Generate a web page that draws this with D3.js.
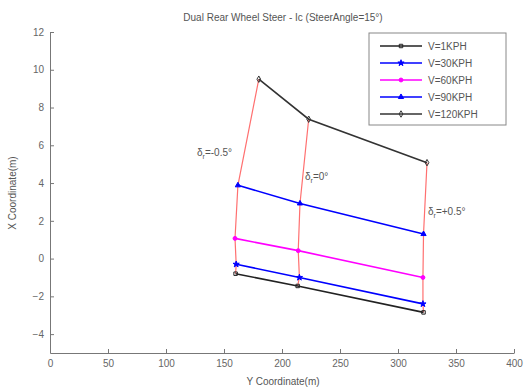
<!DOCTYPE html>
<html>
<head>
<meta charset="utf-8">
<title>Dual Rear Wheel Steer</title>
<script src="https://cdn.jsdelivr.net/npm/d3@7"></script>
<style>
  body { margin: 0; background: #fff; }
  text { font-family: "Liberation Sans", Arial, sans-serif; }
</style>
</head>
<body>
<script>
// speeds (legend), y-coordinate (horizontal) and x-coordinate (vertical) values
var speeds = ["V=1KPH", "V=30KPH", "V=60KPH", "V=90KPH", "V=120KPH"]
var yCoord = [
  [160, 213.5, 322],
  [160.5, 215, 321.5],
  [159.5, 214, 321.5],
  [162, 215.5, 322],
  [180, 223, 325]
]
var xCoord = [
  [-0.8, -1.45, -2.85],
  [-0.3, -1.0, -2.4],
  [1.07, 0.42, -1.0],
  [3.88, 2.92, 1.3],
  [9.5, 7.38, 5.08]
]
var colors = ["#222", "#0000ff", "#ff00ff", "#0000ff", "#333"]
var markers = ["square", "star", "circle", "triangle", "diamond"]
var angleLabels = ["-0.5°", "0°", "+0.5°"]
var xTicks = [0, 50, 100, 150, 200, 250, 300, 350, 400]
var yTicks = [-4, -2, 0, 2, 4, 6, 8, 10, 12]

var w = 528, h = 389
var svg = d3.select("body").append("svg").attr("width", w).attr("height", h)

var xScale = d3.scaleLinear().domain([0, 400]).range([50, 514])
var yScale = d3.scaleLinear().domain([-5, 12]).range([353, 32])

// axes (MATLAB style, inward ticks, box off)
var xAxis = svg.append("g").attr("transform", "translate(0," + yScale(-5) + ")")
  .call(d3.axisBottom(xScale).tickValues(xTicks).tickSizeInner(-4).tickSizeOuter(0).tickPadding(7))
var yAxis = svg.append("g").attr("transform", "translate(" + xScale(0) + ",0)")
  .call(d3.axisLeft(yScale).tickValues(yTicks).tickSizeInner(-4).tickSizeOuter(0).tickPadding(6))
svg.selectAll(".domain, .tick line").attr("stroke", "#777")
svg.selectAll(".tick text").attr("fill", "#666").style("font-size", "10px")

svg.append("text").attr("x", 283).attr("y", 21).attr("text-anchor", "middle")
  .attr("fill", "#555").style("font-size", "10px")
  .text("Dual Rear Wheel Steer - Ic (SteerAngle=15°)")
svg.append("text").attr("x", 283).attr("y", 385).attr("text-anchor", "middle")
  .attr("fill", "#555").style("font-size", "10px").text("Y Coordinate(m)")
svg.append("text").attr("transform", "translate(16,193) rotate(-90)").attr("text-anchor", "middle")
  .attr("fill", "#555").style("font-size", "10px").text("X Coordinate(m)")

// red constant-angle lines across speeds
for (var j = 0; j < 3; j++) {
  var col = speeds.map(function(s, i) { return [yCoord[i][j], xCoord[i][j]] })
  svg.append("path").datum(col)
    .attr("d", d3.line().x(function(d) { return xScale(d[0]) }).y(function(d) { return yScale(d[1]) }))
    .attr("fill", "none").attr("stroke", "#ff7070").attr("stroke-width", 1.2)
}

function symbolFor(m, size) {
  var t = { square: d3.symbolSquare, star: d3.symbolStar, circle: d3.symbolCircle,
            triangle: d3.symbolTriangle, diamond: d3.symbolDiamond }[m]
  return d3.symbol().type(t).size(size)()
}

var line = d3.line().x(function(d) { return xScale(d[0]) }).y(function(d) { return yScale(d[1]) })
speeds.forEach(function(s, i) {
  var pts = yCoord[i].map(function(v, k) { return [v, xCoord[i][k]] })
  svg.append("path").datum(pts).attr("d", line)
    .attr("fill", "none").attr("stroke", colors[i]).attr("stroke-width", 1.6)
  svg.selectAll(".m" + i).data(pts).enter().append("path")
    .attr("transform", function(d) { return "translate(" + xScale(d[0]) + "," + yScale(d[1]) + ")" })
    .attr("d", symbolFor(markers[i], 12))
    .attr("fill", markers[i] == "square" || markers[i] == "diamond" ? "none" : colors[i])
    .attr("stroke", colors[i]).attr("stroke-width", 1)
})

// angle labels
var labelPos = [[197, 156], [305, 180], [428, 215]]
angleLabels.forEach(function(a, j) {
  var t = svg.append("text").attr("x", labelPos[j][0]).attr("y", labelPos[j][1])
    .attr("fill", "#555").style("font-size", "10px")
  t.append("tspan").text("δ")
  t.append("tspan").attr("dy", 3).style("font-size", "7px").text("r")
  t.append("tspan").attr("dy", -3).text("=" + a)
})

// legend
var lg = svg.append("g")
lg.append("rect").attr("x", 369).attr("y", 33).attr("width", 137).attr("height", 92)
  .attr("fill", "#fff").attr("stroke", "#888")
speeds.forEach(function(s, i) {
  var yy = 46 + i * 17
  lg.append("line").attr("x1", 380).attr("x2", 422).attr("y1", yy).attr("y2", yy)
    .attr("stroke", colors[i]).attr("stroke-width", 1.6)
  lg.append("path").attr("transform", "translate(401," + yy + ")")
    .attr("d", symbolFor(markers[i], 12))
    .attr("fill", markers[i] == "square" || markers[i] == "diamond" ? "none" : colors[i])
    .attr("stroke", colors[i]).attr("stroke-width", 1)
  lg.append("text").attr("x", 428).attr("y", yy + 4).attr("fill", "#555")
    .style("font-size", "10px").text(s)
})
</script>
</body>
</html>
